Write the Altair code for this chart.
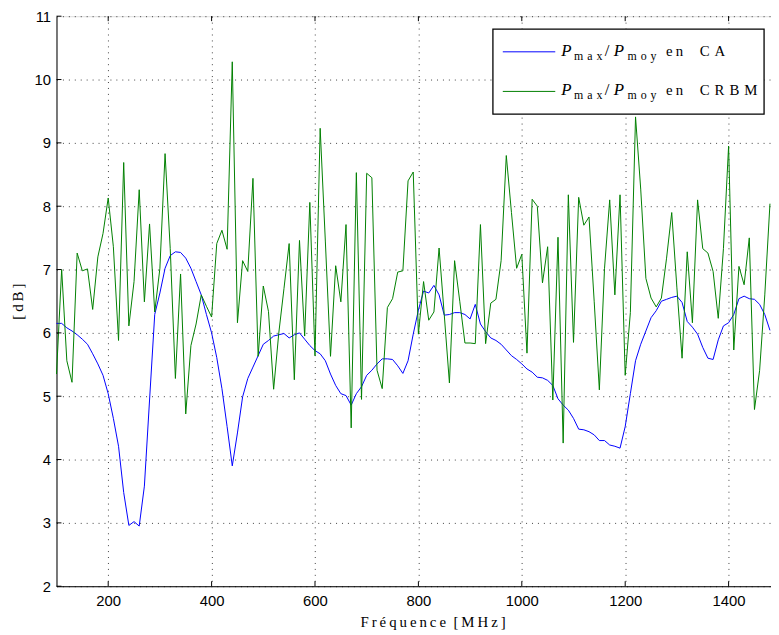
import altair as alt
import pandas as pd

freq = list(range(100, 1490, 10))

ca = [6.15, 6.15, 6.08, 6.03, 5.97, 5.90, 5.82, 5.67, 5.51, 5.33,
      5.04, 4.65, 4.21, 3.48, 2.96, 3.02, 2.95, 3.58, 4.94, 6.29,
      6.63, 7.02, 7.22, 7.28, 7.27, 7.18, 7.02, 6.81, 6.60, 6.29,
      6.00, 5.61, 5.12, 4.52, 3.90, 4.42, 4.99, 5.28, 5.46, 5.64,
      5.82, 5.88, 5.95, 5.97, 5.99, 5.92, 5.97, 6.00, 5.90, 5.80,
      5.72, 5.67, 5.56, 5.35, 5.17, 5.04, 5.01, 4.86, 5.04, 5.15,
      5.33, 5.41, 5.51, 5.59, 5.59, 5.58, 5.48, 5.36, 5.56, 5.98,
      6.36, 6.66, 6.63, 6.75, 6.60, 6.28, 6.29, 6.32, 6.32, 6.29,
      6.22, 6.45, 6.14, 6.02, 5.92, 5.88, 5.82, 5.73, 5.64, 5.58,
      5.51, 5.43, 5.38, 5.30, 5.29, 5.25, 5.17, 4.96, 4.86, 4.78,
      4.65, 4.48, 4.47, 4.44, 4.39, 4.30, 4.30, 4.23, 4.21, 4.18,
      4.52, 5.04, 5.56, 5.82, 6.03, 6.24, 6.35, 6.50, 6.53, 6.56,
      6.58, 6.48, 6.18, 6.09, 5.98, 5.77, 5.60, 5.58, 5.89, 6.11,
      6.16, 6.29, 6.54, 6.58, 6.54, 6.53, 6.45, 6.29, 6.04]

crbm = [5.35, 7.00, 5.56, 5.22, 7.26, 6.98, 7.01, 6.37, 7.20, 7.57,
        8.13, 7.36, 5.88, 8.69, 6.11, 6.81, 8.26, 6.49, 7.72, 6.33,
        7.02, 8.83, 7.33, 5.28, 6.93, 4.72, 5.80, 6.14, 6.60, 6.42,
        6.25, 7.41, 7.62, 7.32, 10.28, 6.16, 7.14, 6.97, 8.44, 5.63,
        6.74, 6.34, 5.11, 6.00, 6.70, 7.41, 5.26, 7.46, 5.95, 8.06,
        5.64, 9.23, 7.45, 5.63, 7.06, 6.49, 7.71, 4.50, 8.53, 4.95,
        8.52, 8.45, 5.41, 5.12, 6.40, 6.54, 6.96, 6.98, 8.40, 8.54,
        5.98, 6.81, 6.20, 6.33, 7.34, 6.29, 5.21, 7.14, 6.50, 5.84,
        5.84, 5.83, 7.71, 5.83, 6.47, 6.53, 7.14, 8.80, 7.90, 7.02,
        7.24, 5.68, 8.11, 8.00, 6.79, 7.36, 4.94, 7.51, 4.26, 8.18,
        5.85, 8.14, 7.70, 7.83, 6.50, 5.10, 7.02, 8.10, 6.60, 8.18,
        5.33, 6.32, 9.41, 8.27, 6.86, 6.55, 6.41, 6.55, 7.18, 7.90,
        6.71, 5.60, 7.28, 6.16, 8.10, 7.33, 7.26, 6.97, 6.23, 7.33,
        8.95, 5.73, 7.05, 6.76, 7.50, 4.79, 5.41, 6.60, 8.04]

x_ticks = [200, 400, 600, 800, 1000, 1200, 1400]
y_ticks = [2, 3, 4, 5, 6, 7, 8, 9, 10, 11]

df = pd.DataFrame({"f": freq, "ca": ca, "crbm": crbm})
xt = pd.DataFrame({"t": x_ticks})
yt = pd.DataFrame({"t": y_ticks})
one = pd.DataFrame({"a": [0]})

W, H = 722, 576
SERIF = "Liberation Serif"
SANS = "Liberation Sans"

xscale = alt.Scale(domain=[100, 1482], nice=False, zero=False)
yscale = alt.Scale(domain=[2, 11], nice=False, zero=False)

ts = "\u2009"
xaxis = alt.Axis(
    values=x_ticks, format="d", grid=True, ticks=False, tickSize=0,
    gridDash=[1, 5], gridColor="#000000", gridOpacity=0.75, gridWidth=1,
    domainColor="black", domainWidth=1,
    labelFont=SANS, labelFontSize=15, labelColor="black", labelPadding=7,
    title=ts.join("Fréquence") + "\u2002" + ts.join("[MHz]"),
    titleFont=SERIF, titleFontSize=15, titleFontWeight="normal",
    titleColor="black", titleX=380, titleY=41, titleAlign="center",
    titleBaseline="alphabetic",
)
yaxis = alt.Axis(
    values=y_ticks, format="d", grid=True, ticks=False, tickSize=0,
    gridDash=[1, 5], gridColor="#000000", gridOpacity=0.75, gridWidth=1,
    domainColor="black", domainWidth=1,
    labelFont=SANS, labelFontSize=15, labelColor="black", labelPadding=6,
    title=ts.join("[dB]"),
    titleFont=SERIF, titleFontSize=15, titleFontWeight="normal",
    titleColor="black", titleX=-39, titleY=288, titleAngle=270,
    titleAlign="center", titleBaseline="middle",
)

line_ca = alt.Chart(df).mark_line(color="#0000ff", strokeWidth=1).encode(
    x=alt.X("f:Q", scale=xscale, axis=xaxis),
    y=alt.Y("ca:Q", scale=yscale, axis=yaxis),
)
line_crbm = alt.Chart(df).mark_line(color="#008000", strokeWidth=1).encode(
    x=alt.X("f:Q", scale=xscale, axis=xaxis),
    y=alt.Y("crbm:Q", scale=yscale, axis=yaxis),
)

tick_bottom = alt.Chart(xt).mark_rule(color="black", strokeWidth=1).encode(
    x=alt.X("t:Q", scale=xscale, axis=xaxis), y=alt.value(H), y2=alt.value(H - 5))
tick_top = alt.Chart(xt).mark_rule(color="black", strokeWidth=1).encode(
    x=alt.X("t:Q", scale=xscale, axis=xaxis), y=alt.value(0), y2=alt.value(5))
tick_left = alt.Chart(yt).mark_rule(color="black", strokeWidth=1).encode(
    y=alt.Y("t:Q", scale=yscale, axis=yaxis), x=alt.value(0), x2=alt.value(5))

# legend box
leg_box = alt.Chart(one).mark_rect(fill="white", stroke="black", strokeWidth=1.3).encode(
    x=alt.value(441), x2=alt.value(715), y=alt.value(13), y2=alt.value(99))
leg_l1 = alt.Chart(one).mark_rule(color="#0000ff", strokeWidth=1).encode(
    x=alt.value(451), x2=alt.value(504), y=alt.value(36))
leg_l2 = alt.Chart(one).mark_rule(color="#008000", strokeWidth=1).encode(
    x=alt.value(451), x2=alt.value(504), y=alt.value(76))

sp = "\u2004"


def txt(s, x, y, size, italic=False):
    return alt.Chart(one).mark_text(
        text=s, font=SERIF, fontSize=size, fontStyle="italic" if italic else "normal",
        align="left", baseline="alphabetic", color="black",
    ).encode(x=alt.value(x), y=alt.value(y))


def legend_label(suffix, base):
    return [
        txt("P", 510, base, 17, True),
        txt(sp.join("max"), 523, base + 4, 12),
        txt("/", 554, base, 17),
        txt("P", 563, base, 17, True),
        txt(sp.join("moy"), 577, base + 4, 12),
        txt(ts.join("en"), 616, base, 15),
        txt("\u2004".join(suffix), 650, base, 15),
    ]


layers = [line_ca, line_crbm, tick_bottom, tick_top, tick_left,
          leg_box, leg_l1, leg_l2]
layers += legend_label("CA", 40)
layers += legend_label("CRBM", 80)

chart = alt.layer(*layers).properties(
    width=W, height=H,
    autosize=alt.AutoSizeParams(type="none"),
    padding={"left": 49, "top": 5, "right": 0, "bottom": 46},
).configure_view(stroke="black", strokeWidth=1).configure(background="white")

chart.save("out.html", embed_options={"renderer": "svg", "actions": False})
